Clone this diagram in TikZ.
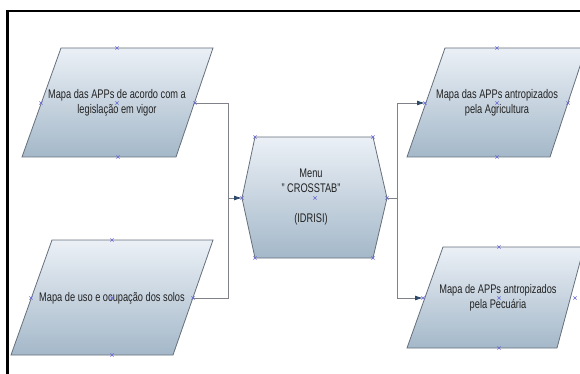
\documentclass[tikz,border=0pt]{standalone}
\usepackage{fontspec}
\setmainfont{Liberation Sans}[FakeStretch=0.74]
\usetikzlibrary{arrows.meta}
\definecolor{boxtop}{HTML}{EBF0F6}
\definecolor{boxbot}{HTML}{A4B8C9}
\definecolor{boxline}{HTML}{66707C}
\definecolor{conn}{HTML}{7F8288}
\definecolor{tipcol}{HTML}{2E4A6B}
\definecolor{xcol}{HTML}{6666D6}
\definecolor{txt}{HTML}{222222}
\tikzset{
  shapebox/.style={draw=boxline, line width=0.8pt, top color=boxtop, bottom color=boxbot},
  lbl/.style={align=center, text=txt, inner sep=0pt, font=\fontsize{12.5}{15}\selectfont},
  link/.style={draw=conn, line width=0.9pt},
  arr/.style={link, -{Latex[length=8pt,width=5pt,color=tipcol]}},
  xmark/.style={draw=xcol, line width=0.5pt},
  xm/.pic={\draw[xmark] (-1.6,-1.6)--(1.6,1.6) (-1.6,1.6)--(1.6,-1.6);},
  frameline/.style={draw=black, line width=2.6pt}
}
\begin{document}
\begin{tikzpicture}[x=1pt,y=-1pt]
\useasboundingbox (0,0) rectangle (580,374);
\fill[white] (0,0) rectangle (580,374);
% frame
\draw[frameline] (7.5,376) -- (7.5,11) -- (582,11);

% shapes
\path[shapebox] (61,48) -- (213,48) -- (176,157) -- (22,157) -- cycle;
\path[shapebox] (52,240) -- (213,240) -- (173,355) -- (11,355) -- cycle;
\path[shapebox] (255,137) -- (373,137) -- (387,198) -- (373,258) -- (255,258) -- (242,198) -- cycle;
\path[shapebox] (445,48) -- (586,48) -- (550,157) -- (407,157) -- cycle;
\path[shapebox] (443,247) -- (584,247) -- (557,348) -- (407,348) -- cycle;

% connection points
\coordinate (a1) at (195,103);
\coordinate (a2) at (193,298);
\coordinate (hl) at (242,198);
\coordinate (hr) at (387,198);
\coordinate (b1) at (425,103);
\coordinate (b2) at (423,298);
\coordinate (jl) at (228,198);
\coordinate (jr) at (397,198);

% labels
\node[lbl] (t1) at (117,103) {Mapa das APPs de acordo com a\\legislação em vigor};
\node[lbl] (t2) at (112,298) {Mapa de uso e ocupação dos solos};
\node[lbl] (t3) at (311,197) {Menu\\" CROSSTAB"\\ \\(IDRISI)};
\node[lbl] (t4) at (497,103) {Mapa das APPs antropizados\\pela Agricultura};
\node[lbl] (t5) at (498,298) {Mapa de APPs antropizados\\pela Pecuária};

% connectors
\draw[link] (a2) -| (jl);
\draw[arr] (a1) -| (jl) -- (hl);
\draw[link] (hr) -- (jr);
\draw[arr] (jr) |- (b1);
\draw[arr] (jr) |- (b2);

% connection markers
\foreach \p in {(117,48),(117,103),(118,157),(41,103),(195,103),
                (112,240),(112,298),(112,355),(31,298),(193,298),
                (255,137),(373,137),(255,258),(373,258),(242,198),(387,198),(315,198),
                (497,48),(497,103),(497,157),(425,103),(568,103),
                (499,247),(499,298),(499,348),(423,298),(575,298)}
  \pic at \p {xm};
\end{tikzpicture}
\end{document}
